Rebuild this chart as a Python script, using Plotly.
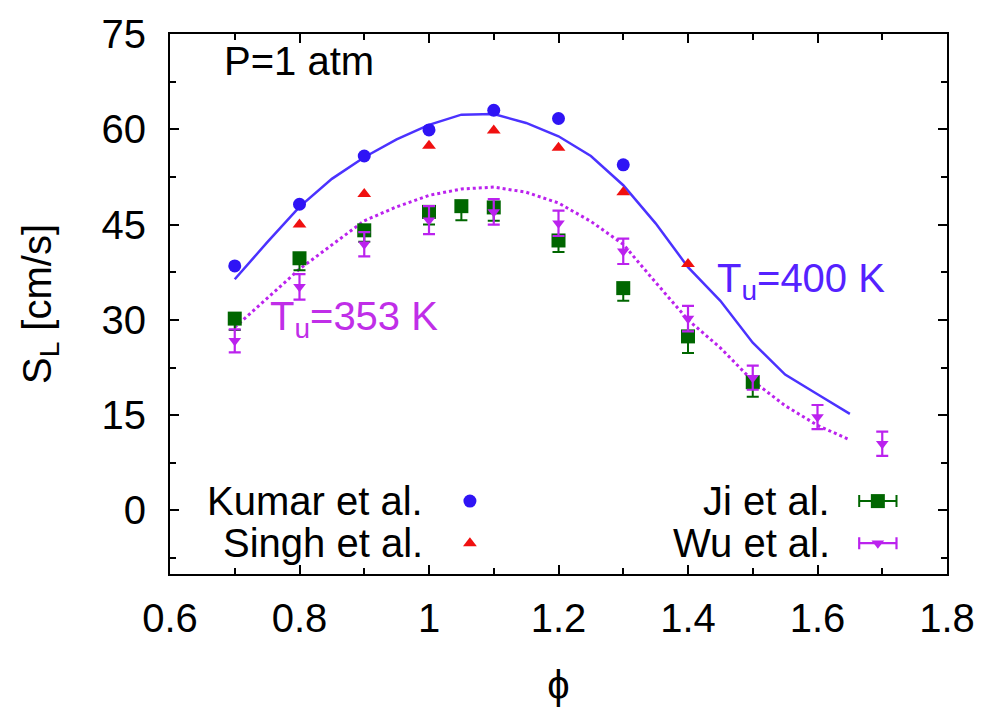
import plotly.graph_objects as go

# Laminar burning velocity S_L versus equivalence ratio, P = 1 atm
# Kumar et al. (Tu = 400 K)
kumar_phi = [0.7, 0.8, 0.9, 1.0, 1.1, 1.2, 1.3]
kumar_sl = [38.5, 48.2, 55.8, 59.9, 63.0, 61.7, 54.4]

# Singh et al. (Tu = 400 K)
singh_phi = [0.8, 0.9, 1.0, 1.1, 1.2, 1.3, 1.4]
singh_sl = [45.0, 49.8, 57.4, 59.8, 57.1, 50.1, 38.8]

# Ji et al. (Tu = 353 K), downward error bars
ji_phi = [0.7, 0.8, 0.9, 1.0, 1.05, 1.1, 1.2, 1.3, 1.4, 1.5]
ji_sl = [30.2, 39.7, 44.1, 47.0, 47.9, 47.7, 42.5, 35.0, 27.4, 20.2]
ji_err_minus = [1.8, 1.9, 1.8, 2.0, 2.2, 2.1, 1.8, 2.0, 2.6, 2.3]

# Wu et al. (Tu = 353 K), symmetric error bars
wu_phi = [0.7, 0.8, 0.9, 1.0, 1.1, 1.2, 1.3, 1.4, 1.5, 1.6, 1.7]
wu_sl = [26.7, 35.2, 41.9, 45.7, 47.0, 45.2, 40.8, 30.2, 20.9, 14.7, 10.5]
wu_err = [1.8, 2.0, 1.9, 2.2, 2.0, 2.0, 2.0, 2.0, 1.9, 1.9, 1.9]

# Computed profiles
sim400_phi = [0.70, 0.75, 0.80, 0.85, 0.90, 0.95, 1.00, 1.05, 1.10, 1.15,
              1.20, 1.25, 1.30, 1.35, 1.40, 1.45, 1.50, 1.55, 1.60, 1.65]
sim400_sl = [36.4, 42.2, 47.8, 52.2, 55.6, 58.4, 60.7, 62.3, 62.4, 61.0,
             58.9, 55.8, 51.2, 45.2, 38.3, 33.0, 26.4, 21.4, 18.3, 15.2]

sim353_phi = [0.70, 0.75, 0.80, 0.85, 0.90, 0.95, 1.00, 1.05, 1.10, 1.15,
              1.20, 1.25, 1.30, 1.35, 1.40, 1.45, 1.50, 1.55, 1.60, 1.65]
sim353_sl = [28.8, 33.4, 38.0, 41.8, 45.6, 47.8, 49.6, 50.6, 50.9, 50.1,
             48.4, 45.5, 41.9, 35.9, 30.0, 25.6, 20.4, 16.5, 13.4, 11.1]

x_ticks = [0.6, 0.8, 1.0, 1.2, 1.4, 1.6, 1.8]
x_labels = ["0.6", "0.8", "1", "1.2", "1.4", "1.6", "1.8"]
y_ticks = [0, 15, 30, 45, 60, 75]
y_labels = ["0", "15", "30", "45", "60", "75"]

BLUE = "#2f14f5"
BLUE_LINE = "#4b32ff"
RED = "#f01010"
GREEN = "#006600"
PURPLE = "#bb22ee"
FONT = "Liberation Sans"
FS = 40

fig = go.Figure()

fig.add_trace(go.Scatter(x=sim400_phi, y=sim400_sl, mode="lines",
                         line=dict(color=BLUE_LINE, width=2.5)))
fig.add_trace(go.Scatter(x=sim353_phi, y=sim353_sl, mode="lines",
                         line=dict(color=PURPLE, width=3, dash="dot")))

fig.add_trace(go.Scatter(x=kumar_phi, y=kumar_sl, mode="markers",
                         marker=dict(symbol="circle", size=13, color=BLUE)))
fig.add_trace(go.Scatter(x=singh_phi, y=singh_sl, mode="markers",
                         marker=dict(symbol="triangle-up", size=12, color=RED)))
fig.add_trace(go.Scatter(x=ji_phi, y=ji_sl, mode="markers",
                         marker=dict(symbol="square", size=14, color=GREEN),
                         error_y=dict(type="data", symmetric=False,
                                      array=[0] * len(ji_phi),
                                      arrayminus=ji_err_minus,
                                      color=GREEN, thickness=2, width=6)))
fig.add_trace(go.Scatter(x=wu_phi, y=wu_sl, mode="markers",
                         marker=dict(symbol="triangle-down", size=11, color=PURPLE),
                         error_y=dict(type="data", array=wu_err,
                                      color=PURPLE, thickness=2.2, width=6)))

# Legend keys, drawn on a hidden unit overlay axis
key_x = [0.386, 0.911]
key_y = [0.135, 0.057]
fig.add_trace(go.Scatter(x=[key_x[0]], y=[key_y[0]], xaxis="x2", yaxis="y2",
                         mode="markers",
                         marker=dict(symbol="circle", size=13, color=BLUE)))
fig.add_trace(go.Scatter(x=[key_x[0]], y=[key_y[1]], xaxis="x2", yaxis="y2",
                         mode="markers",
                         marker=dict(symbol="triangle-up", size=12, color=RED)))
fig.add_trace(go.Scatter(x=[key_x[1]], y=[key_y[0]], xaxis="x2", yaxis="y2",
                         mode="markers",
                         marker=dict(symbol="square", size=14, color=GREEN),
                         error_x=dict(type="constant", value=0.024,
                                      color=GREEN, thickness=2, width=6)))
fig.add_trace(go.Scatter(x=[key_x[1]], y=[key_y[1]], xaxis="x2", yaxis="y2",
                         mode="markers",
                         marker=dict(symbol="triangle-down", size=11, color=PURPLE),
                         error_x=dict(type="constant", value=0.024,
                                      color=PURPLE, thickness=2.2, width=6)))

legend_text = ["Kumar et al.", "Singh et al.", "Ji et al.", "Wu et al."]
legend_pos = [(0.328, key_y[0]), (0.328, key_y[1]),
              (0.852, key_y[0]), (0.852, key_y[1])]
annotations = []
for txt, (ax, ay) in zip(legend_text, legend_pos):
    annotations.append(dict(text=txt, x=ax, y=ay, xref="paper", yref="paper",
                            xanchor="right", yanchor="middle", showarrow=False,
                            font=dict(family=FONT, size=FS, color="black")))

annotations.append(dict(text="P=1 atm", x=0.067, y=0.95, xref="paper", yref="paper",
                        xanchor="left", yanchor="middle", showarrow=False,
                        font=dict(family=FONT, size=FS, color="black")))
annotations.append(dict(text="T<sub>u</sub>=400 K", x=0.701, y=0.542,
                        xref="paper", yref="paper", xanchor="left", yanchor="middle",
                        showarrow=False,
                        font=dict(family=FONT, size=FS, color="#5522ff")))
annotations.append(dict(text="T<sub>u</sub>=353 K", x=0.126, y=0.472,
                        xref="paper", yref="paper", xanchor="left", yanchor="middle",
                        showarrow=False,
                        font=dict(family=FONT, size=FS, color="#c02ee8")))

axis_common = dict(
    ticks="inside", ticklen=9, tickwidth=1.5, tickcolor="black",
    showline=True, linecolor="black", linewidth=2, mirror="ticks",
    showgrid=False, zeroline=False,
    tickfont=dict(family=FONT, size=FS, color="black"),
)

fig.update_layout(
    width=991, height=713,
    margin=dict(l=170, r=44, t=27, b=139),
    paper_bgcolor="white", plot_bgcolor="white",
    showlegend=False,
    font=dict(family=FONT, size=FS, color="black"),
    xaxis=dict(range=[0.6, 1.8], tickvals=x_ticks, ticktext=x_labels,
               ticklabelstandoff=8,
               minor=dict(dtick=0.1, ticks="inside", ticklen=6, tickwidth=1.5,
                          tickcolor="black", showgrid=False),
               title=dict(text="ϕ", font=dict(family=FONT, size=FS), standoff=32),
               **axis_common),
    yaxis=dict(range=[-10, 75], tickvals=y_ticks, ticktext=y_labels,
               ticklabelstandoff=14,
               minor=dict(dtick=7.5, tick0=0, ticks="inside", ticklen=6,
                          tickwidth=1.5, tickcolor="black", showgrid=False),
               title=dict(text="S<sub>L</sub> [cm/s]", font=dict(family=FONT, size=FS),
                          standoff=38),
               **axis_common),
    xaxis2=dict(range=[0, 1], overlaying="x", visible=False),
    yaxis2=dict(range=[0, 1], overlaying="y", visible=False),
    annotations=annotations,
)

fig.write_html("out.html")
